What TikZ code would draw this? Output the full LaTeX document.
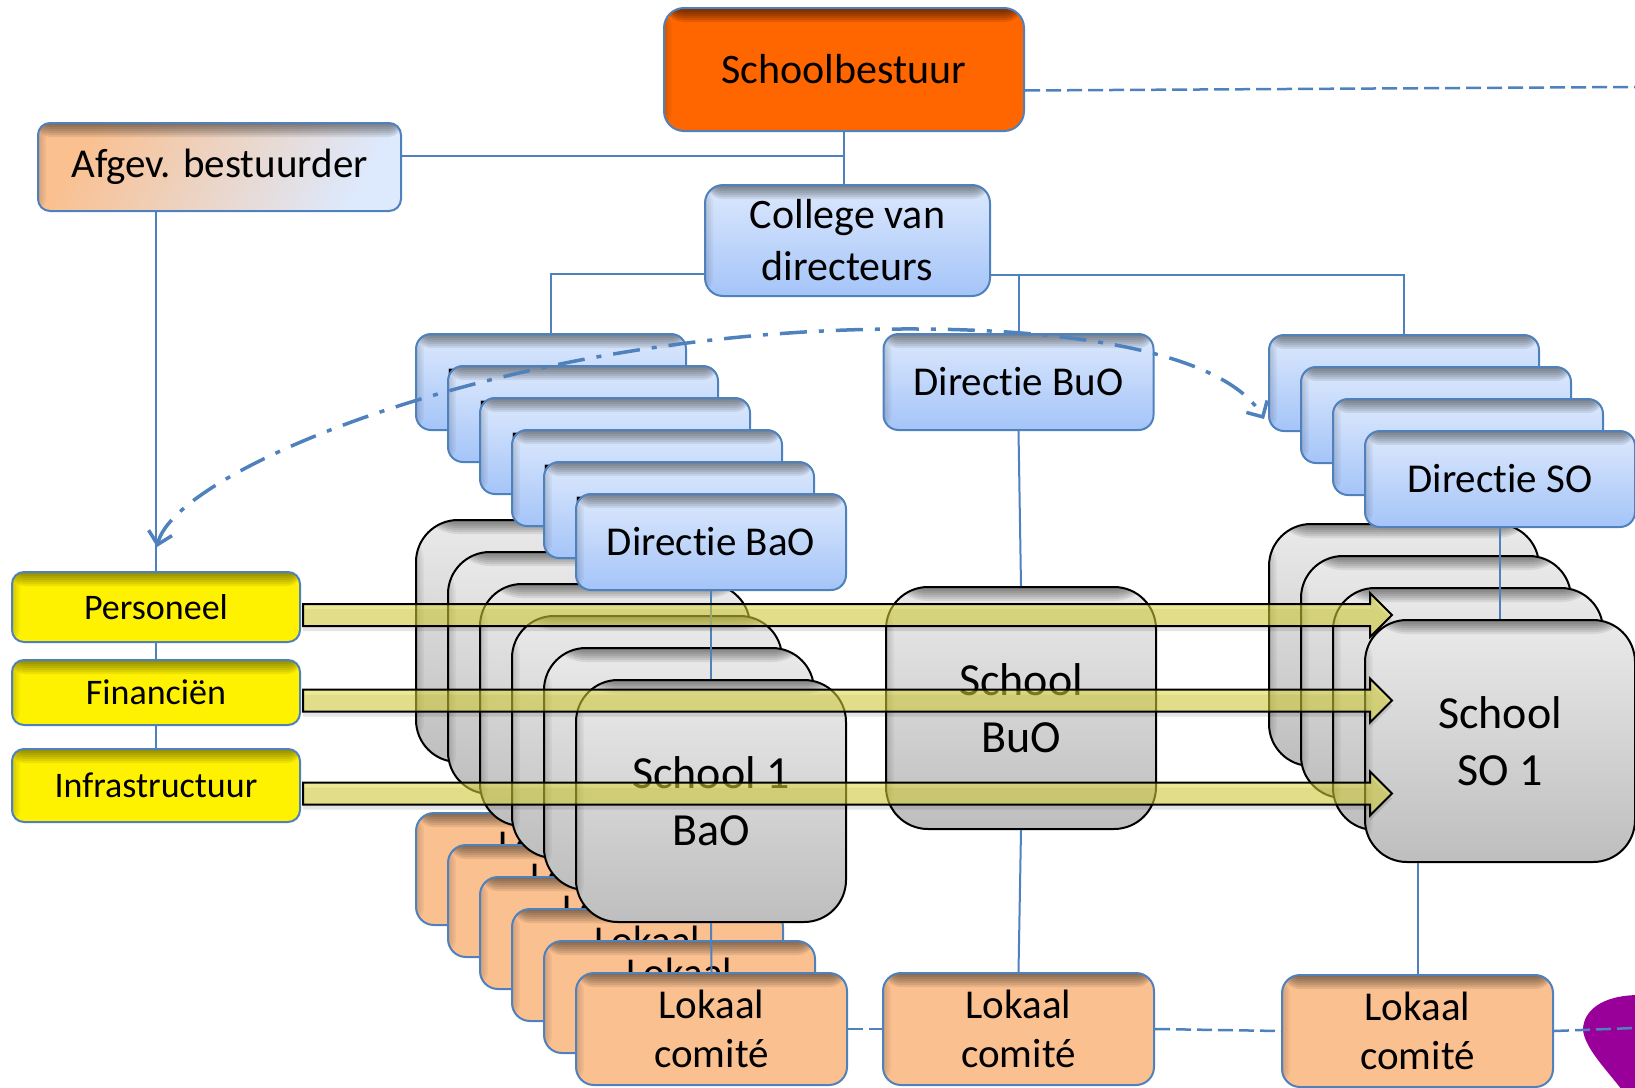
\documentclass[tikz,border=0pt]{standalone}
\usepackage{fontspec}
\setmainfont{Carlito}[Ligatures=NoCommon]
\usetikzlibrary{positioning,calc,arrows.meta}

\definecolor{lineblue}{RGB}{79,129,189}
\definecolor{dirtop}{RGB}{221,233,253}
\definecolor{dirbot}{RGB}{164,196,248}
\definecolor{sbor}{RGB}{255,102,0}
\definecolor{lokfill}{RGB}{250,192,144}
\definecolor{schtop}{RGB}{234,234,234}
\definecolor{schbot}{RGB}{190,190,190}
\definecolor{arrfill}{RGB}{222,216,60}
\definecolor{paars}{RGB}{153,0,153}

\tikzset{
  inshade/.style={path picture={
    \foreach \k in {1,...,7}
      \fill[black, opacity=#1] (path picture bounding box.north west) rectangle ([yshift=-2*\k pt]path picture bounding box.north east);
    \foreach \k in {1,...,4}
      \fill[black, opacity=.04] (path picture bounding box.north west) rectangle ([xshift=2*\k pt]path picture bounding box.south west);}},
  inshade/.default=.08,
  box/.style={draw=lineblue, line width=2pt, inner sep=0pt, align=center},
  dirbox/.style={box, rounded corners=15pt, top color=dirtop, bottom color=dirbot, minimum width=270pt, minimum height=96pt, font=\fontsize{41}{49}\selectfont, inshade},
  schbox/.style={box, draw=black, rounded corners=42pt, top color=schtop, bottom color=schbot, minimum width=270pt, minimum height=242pt, font=\fontsize{46}{57}\selectfont, inshade},
  lokbox/.style={box, rounded corners=18pt, fill=lokfill, minimum width=271pt, minimum height=112pt, font=\fontsize{41}{49}\selectfont, inshade},
  taak/.style={box, rounded corners=12pt, fill=yellow, minimum width=288pt, font=\fontsize{36}{43}\selectfont, inshade=.07},
  link/.style={lineblue, line width=2pt},
  stippel/.style={lineblue, line width=2.5pt, dash pattern=on 15pt off 6pt},
  stipstreep/.style={lineblue, line width=3.5pt, dash pattern=on 27pt off 12pt on 5pt off 12pt,
    {Straight Barb[length=12pt,width=24pt]}-{Straight Barb[length=12pt,width=24pt]}},
  bigarrow/.style={draw=black, line width=2pt, fill=arrfill, fill opacity=.55, line join=miter,
    preaction={draw=none, fill=black, fill opacity=.1, transform canvas={yshift=-5pt}}}
}

\begin{document}
\begin{tikzpicture}[x=1pt,y=-1pt]
\useasboundingbox (0,0) rectangle (1635,1087);
\clip (0,0) rectangle (1635,1087);

% lokale comites
\foreach \i in {0,...,5}
  \node[lokbox] (lokbao\i) at ({551.5+32*\i},{869+32*\i}) {Lokaal\\comité};
\node[lokbox] (lokbuo) at (1018.5,1029) {Lokaal\\comité};
\node[lokbox] (lokso) at (1417.5,1031) {Lokaal\\comité};

% scholen
\foreach \i in {0,...,4}
  \node[schbox] (schbao\i) at ({551+32*\i},{641+32*\i}) {};
\node[schbox] (schbao5) at (711,801) {School 1\\BaO};
\node[schbox] (schbuo) at (1021,708) {School\\BuO};
\foreach \i in {0,...,2}
  \node[schbox] (schso\i) at ({1404+32*\i},{645+32*\i}) {};
\node[schbox] (schso3) at (1500,741) {School\\SO 1};

% directies
\foreach \i in {0,...,5}
  \node[dirbox] (dirbao\i) at ({551+32*\i},{382+32*\i}) {Directie BaO};
\node[dirbox] (dirbuo) at (1018.5,382) {Directie BuO};
\foreach \i in {0,...,2}
  \node[dirbox] (dirso\i) at ({1404+32*\i},{383+32*\i}) {};
\node[dirbox] (dirso3) at (1500,479) {Directie SO};

\node[box, rounded corners=20pt, fill=sbor, minimum width=360pt, minimum height=123pt,
  font=\fontsize{42}{50}\selectfont, inshade=.1] (bestuur) at (844,69.5) {Schoolbestuur};
\node[box, rounded corners=12pt, left color=lokfill, right color=dirtop, shading angle=60,
  minimum width=363pt, minimum height=88pt, font=\fontsize{41}{49}\selectfont, inshade] (afgev) at (219.5,167) {Afgev. bestuurder};
\node[box, rounded corners=18pt, top color=dirtop, bottom color=dirbot, minimum width=285pt, minimum height=111pt,
  font=\fontsize{42}{52}\selectfont, inshade] (college) at (847.5,240.5) {College van\\directeurs};

\node[taak, minimum height=70pt] (pers) at (156,607) {Personeel};
\node[taak, minimum height=65pt, below=16pt of pers] (fin) {Financiën};
\node[taak, minimum height=73pt, below=22pt of fin] (infra) {Infrastructuur};

% lijnen
\coordinate (ja) at ($(afgev.east)+(0,-11)$);
\coordinate (cl) at ($(college.south west)+(0,-23)$);
\coordinate (cr) at ($(college.south east)+(0,-22)$);
\draw[link] (bestuur.south) -- (bestuur.south |- college.north);
\draw[link] (ja) -- (ja -| bestuur.south);
\draw[link] (cl) -| (dirbao0.north);
\draw[link] (cr) -| (dirso0.north);
\draw[link] (cr -| dirbuo.north) -- (dirbuo.north);
\draw[link] (dirbao5.south) -- (schbao5.north);
\draw[link] (schbao5.south) -- (lokbao5.north);
\draw[link] (dirbuo.south) -- (schbuo.north);
\draw[link] (schbuo.south) -- (lokbuo.north);
\draw[link] (dirso3.south) -- (schso3.north);
\draw[link] (lokso.north |- schso3.south) -- (lokso.north);
\draw[link] (afgev.south -| pers.north) -- (pers.north);
\draw[link] (pers.south) -- (fin.north);
\draw[link] (fin.south) -- (infra.north);

\coordinate (bR) at ($(bestuur.east)+(0,21)$);
\coordinate (randT) at (1635,87);
\draw[stippel] (bR) -- (randT);

\fill[paars] (1640,995) .. controls (1600,995) and (1583,1012) .. (1583,1030)
  .. controls (1585,1048) and (1605,1068) .. (1622,1090) -- (1640,1090) -- cycle;
\coordinate (randB) at (1635,1028);
\draw[stippel] (lokbao5.east) -- (lokbuo.west);
\draw[stippel] (lokbuo.east) -- (lokso.west);
\draw[stippel] (lokso.east) -- (randB);

% overleg
\coordinate (pl) at ($(pers.north)+(1,-24)$);
\coordinate (pr) at ($(dirso0.south west)+(-4,-13)$);
\draw[stipstreep] (pl) .. controls (175,470) and (510,330) .. (900,329)
  .. controls (1100,328) and (1230,360) .. (pr);

% ondersteuning
\coordinate (tipx) at (1392,0);
\foreach \n in {pers,fin,infra} {
  \coordinate (a\n) at ($(\n.east)+(2,8)$);
  \coordinate (t\n) at ($(\n.east -| tipx)+(0,8)$);
  \draw[bigarrow] ($(a\n)+(0,-11)$) -- ($(t\n)+(-22,-11)$) -- ++(0,-11) -- (t\n)
    -- ($(t\n)+(-22,22)$) -- ++(0,-11) -- ($(a\n)+(0,11)$) -- cycle;
}
\end{tikzpicture}
\end{document}
